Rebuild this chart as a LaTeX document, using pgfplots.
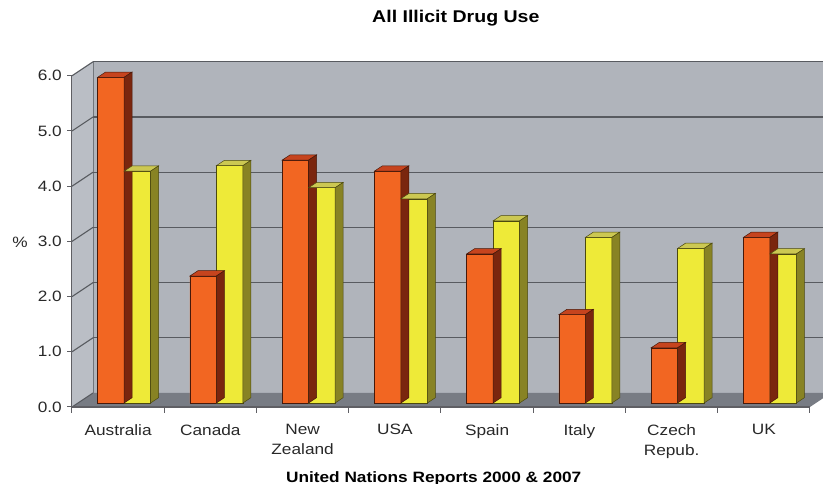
\documentclass[border=0pt]{standalone}
\usepackage{pgfplots}
\pgfplotsset{compat=1.18}
\usepackage{pgfplotstable}
\usepackage{fontspec}
\setmainfont{Liberation Sans}[FakeStretch=1.15]

% wall, floor and bar colours
\definecolor{backwall}{RGB}{176,180,187}
\definecolor{sidewall}{RGB}{186,190,197}
\definecolor{floorc}{RGB}{120,124,132}
\definecolor{gridc}{RGB}{88,91,96}
\definecolor{axisc}{RGB}{95,95,100}
\definecolor{labelc}{RGB}{40,40,40}
\definecolor{orgfront}{RGB}{242,102,34}
\definecolor{orgtop}{RGB}{198,68,30}
\definecolor{orgside}{RGB}{122,38,14}
\definecolor{orgedge}{RGB}{70,25,10}
\definecolor{ylwfront}{RGB}{238,234,56}
\definecolor{ylwtop}{RGB}{204,200,82}
\definecolor{ylwside}{RGB}{136,131,36}
\definecolor{ylwedge}{RGB}{75,72,15}

% prevalence of illicit drug use (%), 2000 and 2007
\pgfplotstableread{
idx y2000 y2007
0   5.9   4.2
1   2.3   4.3
2   4.4   3.9
3   4.2   3.7
4   2.7   3.3
5   1.6   3.0
6   1.0   2.8
7   3.0   2.7
}\drugdata

% the axis sits in the plane of the bars; the floor front edge and the back wall
% are offset from it to give the depth effect
\tikzset{
  frontp/.style={xshift=-6pt,yshift=-4pt},
  backp/.style={xshift=15pt,yshift=10pt},
}

\begin{document}
\begin{tikzpicture}
\useasboundingbox (0,0) rectangle (823pt,484pt);
\begin{axis}[
  at={(78pt,81pt)}, anchor=south west,
  scale only axis, width=738pt, height=331.2pt,
  xmin=-0.5, xmax=7.5, ymin=0, ymax=6,
  enlargelimits=false, clip=false,
  axis line style={draw=none},
  major tick length=0pt,
  xtick={0,...,7},
  xticklabels={Australia,Canada,{New\\Zealand},USA,Spain,Italy,{Czech\\Repub.},UK},
  ytick={0,1,...,6},
  tick label style={font=\fontsize{15}{20}\selectfont, text=labelc},
  xticklabel style={anchor=north, inner sep=0pt, xshift=-6pt, yshift=-21pt, align=center},
  yticklabel style={anchor=east, inner sep=0pt, xshift=-16pt, yshift=-4pt,
    /pgf/number format/.cd, fixed, fixed zerofill, precision=1, assume math mode=true},
  title={All Illicit Drug Use},
  every axis title/.style={at={(axis description cs:0.512,1.162)}, anchor=center,
    font=\bfseries\fontsize{17}{20}\selectfont, text=black},
  xlabel={United Nations Reports 2000 \& 2007},
  every axis x label/.style={at={(axis description cs:0.482,-0.227)}, anchor=center,
    font=\bfseries\fontsize{15}{18}\selectfont, text=black},
  ylabel={\%},
  every axis y label/.style={at={(axis description cs:-0.0786,0.486)}, anchor=center,
    font=\fontsize{15}{18}\selectfont, text=labelc},
]
% back wall, side wall and floor
\fill[backwall] ([backp]axis cs:-0.5,0) rectangle ([backp]axis cs:7.5,6);
\fill[sidewall] ([frontp]axis cs:-0.5,0) -- ([frontp]axis cs:-0.5,6)
  -- ([backp]axis cs:-0.5,6) -- ([backp]axis cs:-0.5,0) -- cycle;
\fill[floorc] ([frontp]axis cs:-0.5,0) -- ([frontp]axis cs:7.5,0)
  -- ([backp]axis cs:7.5,0) -- ([backp]axis cs:-0.5,0) -- cycle;
\draw[gridc!70!backwall, line width=0.6pt] ([backp]axis cs:-0.5,0) -- ([backp]axis cs:-0.5,6);
% gridlines on the back wall and on the side wall
\pgfplotsinvokeforeach{1,...,6}{
  \draw[gridc, line width=1.3pt] ([backp]axis cs:-0.5,#1) -- ([backp]axis cs:7.5,#1);
}
\pgfplotsinvokeforeach{0,...,6}{
  \draw[gridc, line width=1.1pt] ([frontp]axis cs:-0.5,#1) -- ([backp]axis cs:-0.5,#1);
  \draw[axisc, line width=1pt] ([frontp]axis cs:-0.5,#1) -- ++(-5pt,0pt);
}
% front axis lines and category ticks
\draw[axisc, line width=1pt] ([frontp]axis cs:-0.5,0) -- ([frontp]axis cs:-0.5,6);
\draw[axisc, line width=1.2pt] ([frontp]axis cs:-0.5,0) -- ([frontp]axis cs:7.5,0);
\pgfplotsinvokeforeach{-0.5,0.5,...,7.5}{
  \draw[axisc, line width=1pt] ([frontp]axis cs:#1,0) -- ++(0pt,-6pt);
}

% 2000 bars: front faces, then top and side faces
\addplot[ybar, bar width=26.5pt, bar shift=-13.25pt, fill=orgfront, draw=orgedge, line width=0.5pt]
  table[x=idx, y=y2000]{\drugdata};
\addplot[scatter, only marks, mark=*, mark size=0pt, draw=none, fill=none,
  visualization depends on={\thisrow{y2000} \as \barval},
  scatter/@pre marker code/.code={%
    \pgfmathsetlengthmacro\barH{\barval*55.2pt}%
    \filldraw[fill=orgtop, draw=orgedge, line width=0.5pt]
      (-26.5pt,0pt) -- (0pt,0pt) -- (8pt,5.3pt) -- (-18.5pt,5.3pt) -- cycle;
    \filldraw[fill=orgside, draw=orgedge, line width=0.5pt]
      (0pt,0pt) -- (8pt,5.3pt) -- ++(0pt,-\barH) -- (0pt,-\barH) -- cycle;
  },
  scatter/@post marker code/.code={}]
  table[x=idx, y=y2000]{\drugdata};

% 2007 bars
\addplot[ybar, bar width=26.5pt, bar shift=13.25pt, fill=ylwfront, draw=ylwedge, line width=0.5pt]
  table[x=idx, y=y2007]{\drugdata};
\addplot[scatter, only marks, mark=*, mark size=0pt, draw=none, fill=none,
  visualization depends on={\thisrow{y2007} \as \barval},
  scatter/@pre marker code/.code={%
    \pgfmathsetlengthmacro\barH{\barval*55.2pt}%
    \filldraw[fill=ylwtop, draw=ylwedge, line width=0.5pt]
      (0pt,0pt) -- (26.5pt,0pt) -- (34.5pt,5.3pt) -- (8pt,5.3pt) -- cycle;
    \filldraw[fill=ylwside, draw=ylwedge, line width=0.5pt]
      (26.5pt,0pt) -- (34.5pt,5.3pt) -- ++(0pt,-\barH) -- (26.5pt,-\barH) -- cycle;
  },
  scatter/@post marker code/.code={}]
  table[x=idx, y=y2007]{\drugdata};
\end{axis}
\end{tikzpicture}
\end{document}
